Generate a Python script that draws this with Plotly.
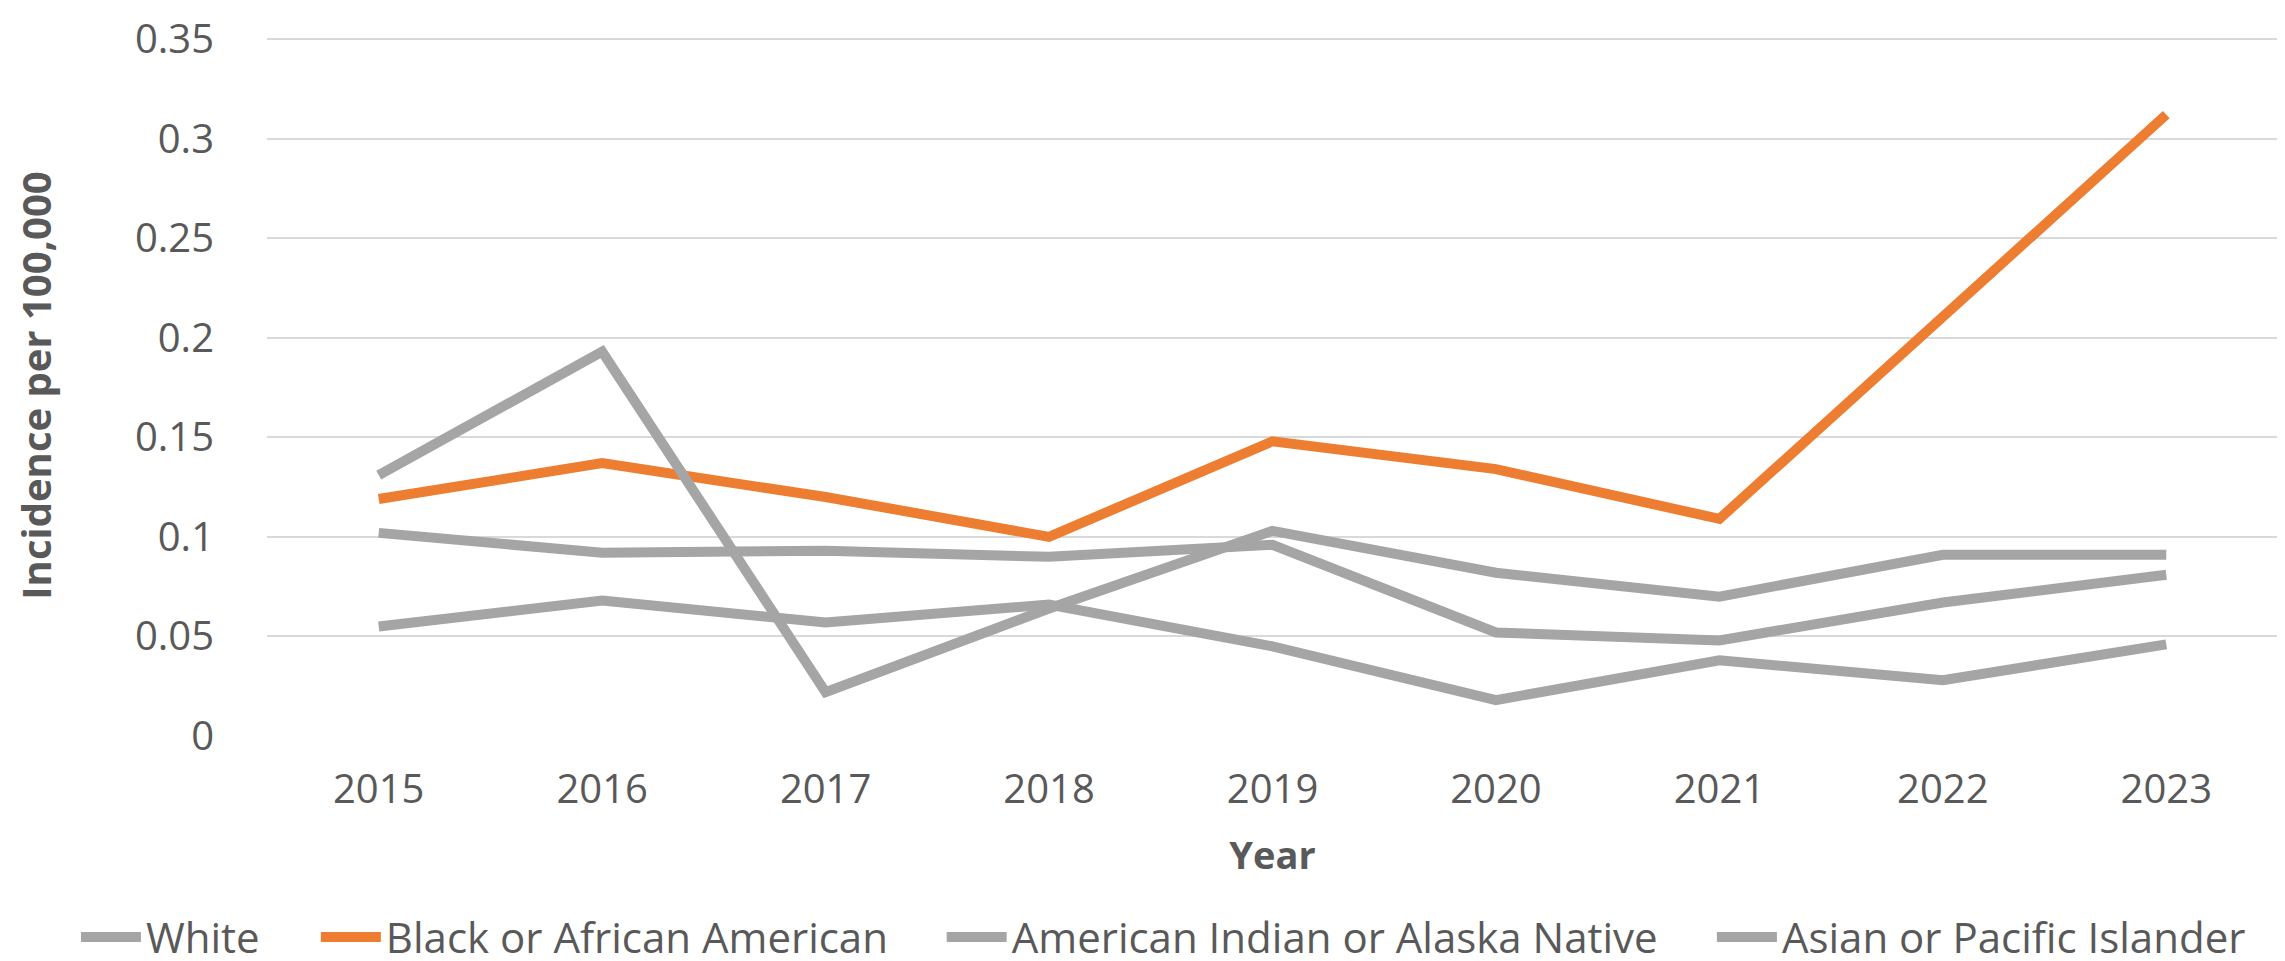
import plotly.graph_objects as go

years = ["2015", "2016", "2017", "2018", "2019", "2020", "2021", "2022", "2023"]
white = [0.102, 0.092, 0.093, 0.090, 0.096, 0.052, 0.048, 0.067, 0.081]
black = [0.119, 0.137, 0.120, 0.100, 0.148, 0.134, 0.109, 0.211, 0.312]
aian = [0.131, 0.193, 0.022, 0.064, 0.103, 0.082, 0.070, 0.091, 0.091]
api = [0.055, 0.068, 0.057, 0.066, 0.045, 0.018, 0.038, 0.028, 0.046]

y_ticks = [0, 0.05, 0.1, 0.15, 0.2, 0.25, 0.3, 0.35]
y_tick_text = ["0", "0.05", "0.1", "0.15", "0.2", "0.25", "0.3", "0.35"]

series = [
    ("White", white, "#A5A5A5"),
    ("Black or African American", black, "#ED7D31"),
    ("American Indian or Alaska Native", aian, "#A5A5A5"),
    ("Asian or Pacific Islander", api, "#A5A5A5"),
]

FONT = "Open Sans"
TXT = "#595959"

legend_ids = ["legend", "legend2", "legend3", "legend4"]
legend_x = [-0.095, 0.0243, 0.3355, 0.7185]

fig = go.Figure()
for (name, vals, color), lid in zip(series, legend_ids):
    fig.add_trace(go.Scatter(
        x=years, y=vals, name=name, mode="lines",
        line=dict(color=color, width=10),
        legend=lid,
    ))

legend_common = dict(
    orientation="h", xanchor="left", y=-0.287, yanchor="middle",
    font=dict(family=FONT, size=42, color=TXT),
    itemwidth=60, bgcolor="rgba(0,0,0,0)",
)

fig.update_layout(
    width=2285, height=961,
    margin=dict(l=259, r=15, t=27, b=233, autoexpand=False),
    paper_bgcolor="white", plot_bgcolor="white",
    font=dict(family=FONT, color=TXT, size=40),
    showlegend=True,
    legend=dict(x=legend_x[0], **legend_common),
    legend2=dict(x=legend_x[1], **legend_common),
    legend3=dict(x=legend_x[2], **legend_common),
    legend4=dict(x=legend_x[3], **legend_common),
    xaxis=dict(
        type="category", range=[-0.5, 8.5],
        showgrid=False, zeroline=False, showline=False,
        tickfont=dict(family=FONT, size=40, color=TXT),
        ticks="", ticklabelstandoff=26,
        title=dict(text="Year", font=dict(family=FONT, size=38, color=TXT, weight="bold"), standoff=28),
        automargin=False,
    ),
    yaxis=dict(
        range=[0, 0.352], tickvals=y_ticks, ticktext=y_tick_text,
        showgrid=True, gridcolor="#D9D9D9", gridwidth=1.5,
        zeroline=False, showline=False, ticks="",
        tickfont=dict(family=FONT, size=40, color=TXT),
        ticklabelstandoff=52, ticklabeloverflow="allow",
        title=dict(text="Incidence per 100,000", font=dict(family=FONT, size=40, color=TXT, weight="bold"), standoff=79),
        automargin=False,
    ),
)

fig.write_html("out.html")
